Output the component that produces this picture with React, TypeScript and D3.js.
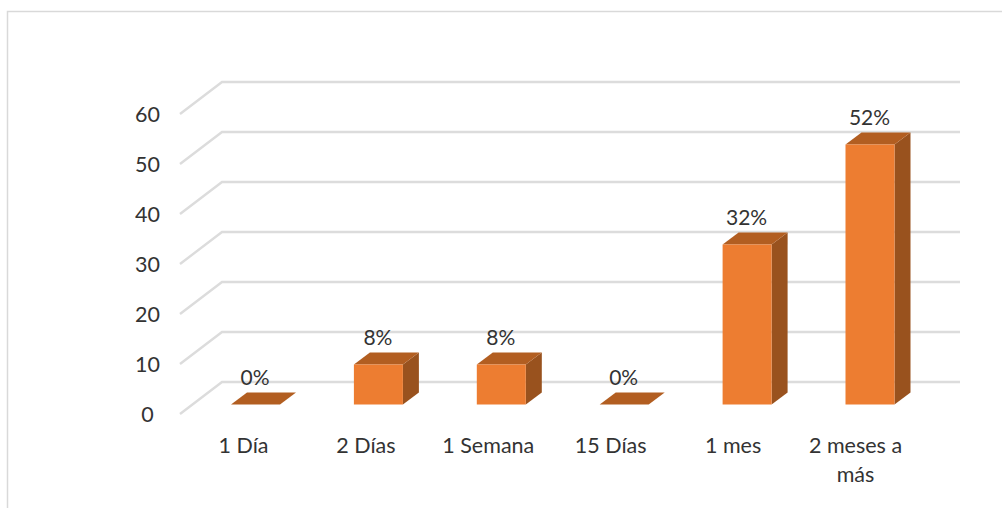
import React from 'react';
import * as d3 from 'd3';

const categories = ['1 Día', '2 Días', '1 Semana', '15 Días', '1 mes', '2 meses a más'];
const values = [0, 8, 8, 0, 32, 52];
const dataLabels = ['0%', '8%', '8%', '0%', '32%', '52%'];
const ticks = [0, 10, 20, 30, 40, 50, 60];

const FONT = 'Lato, Carlito, sans-serif';
const TEXT = '#333333';
const GRID = '#dcdcdc';

export default function App() {
  const y = d3.scaleLinear().domain([0, 60]).range([404.5, 104.5]);
  const x = d3.scalePoint<string>().domain(categories).range([231, 845.5]);
  const xLabel = d3.scalePoint<string>().domain(categories).range([243.5, 855.5]);
  const barW = 49;
  const dx = 16, dy = 12;
  const gridBackOffset = -22.5;
  const wallLeft = 222, wallRight = 960;
  const floorDx = 42, floorDy = 32;
  const line = d3.line();

  return (
    <svg width={1002} height={508} style={{ position: 'absolute', left: 0, top: 0, background: '#fff' }}>
      <path d="M7.5,508V11.5H1002" fill="none" stroke="#d9d9d9" strokeWidth={1.5} />
      {ticks.map(t => {
        const by = y(t) + gridBackOffset;
        return (
          <g key={t}>
            <path
              d={line([[wallLeft - floorDx, by + floorDy], [wallLeft, by], [wallRight, by]]) || ''}
              fill="none" stroke={GRID} strokeWidth={2.4}
            />
            <text x={147.5} y={y(t) + 17} textAnchor="middle" fontFamily={FONT} fontSize={21.5} fill={TEXT}>{t}</text>
          </g>
        );
      })}
      {categories.map((c, i) => {
        const x0 = x(c)!;
        const x1 = x0 + barW;
        const yTop = y(values[i]);
        const yBase = y(0);
        return (
          <g key={c}>
            {values[i] > 0 && (
              <path d={line([[x1, yTop], [x1 + dx, yTop - dy], [x1 + dx, yBase - dy], [x1, yBase]])! + 'Z'} fill="#99521e" />
            )}
            <path d={line([[x0, yTop], [x0 + dx, yTop - dy], [x1 + dx, yTop - dy], [x1, yTop]])! + 'Z'} fill="#b25e21" />
            {values[i] > 0 && (
              <rect x={x0} y={yTop} width={barW} height={yBase - yTop} fill="#ed7d31" />
            )}
            <text x={x0 + 24} y={yTop - 19.5} textAnchor="middle" fontFamily={FONT} fontSize={21} fill={TEXT}>
              {dataLabels[i]}
            </text>
          </g>
        );
      })}
      {categories.map((c, i) => {
        if (i === 5) {
          return (
            <text key={c} textAnchor="middle" fontFamily={FONT} fontSize={21.5} fill={TEXT}>
              <tspan x={xLabel(c)} y={453}>2 meses a</tspan>
              <tspan x={xLabel(c)} y={482}>más</tspan>
            </text>
          );
        }
        return <text key={c} x={xLabel(c)} y={453} textAnchor="middle" fontFamily={FONT} fontSize={21.5} fill={TEXT}>{c}</text>;
      })}
    </svg>
  );
}
